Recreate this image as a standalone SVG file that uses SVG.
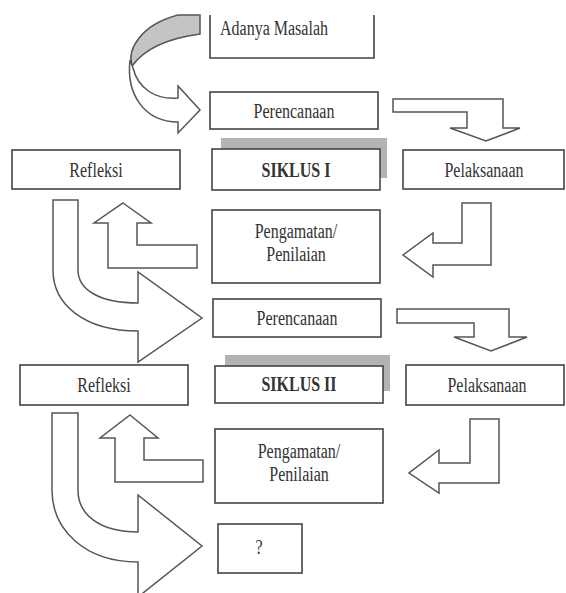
<svg xmlns="http://www.w3.org/2000/svg" width="566" height="593" viewBox="0 0 566 593">
<style>
.box{fill:#fff;stroke:#444;stroke-width:1.6}
.shadow{fill:#b3b3b3;stroke:none}
.arr{fill:#fff;stroke:#555;stroke-width:1.5;stroke-linejoin:miter}
.grey{fill:#c4c4c4;stroke:#555;stroke-width:1.5}
text{font-family:"Liberation Serif","Times New Roman",serif;font-size:20px;fill:#333;text-anchor:middle}
.b{font-weight:bold}
</style>
<rect width="566" height="593" fill="#fff"/>
<g id="connectors">
  <path class="grey" d="M178,15 L200,15 L200,34 C170,38 145,48 132,66 C127,50 140,25 178,15 Z"/>
  <path class="arr" d="M130,60 C126,95 145,122 178,122 L178,133 L200,110 L178,86 L178,98 C155,100 138,88 133,68 Z"/>
  <path class="arr" d="M393,99 L503,99 L503,128 L520,128 L486,141 L450,128 L467,128 L467,112 L393,112 Z"/>
  <path class="arr" d="M462,203 L491,203 L491,265 L433,265 L433,277 L403,255 L433,233 L433,243 L462,243 Z"/>
  <path class="arr" d="M123,203 L151,223 L137,223 L137,245 L197,245 L197,268 L108,268 L108,223 L94,223 Z"/>
  <path class="arr" d="M53,200 L78,200 L78,270 C78,290 100,303 138,303 L138,272 L202,318 L138,362 L138,331 C85,331 53,305 53,270 Z"/>
  <path class="arr" d="M397,309 L509,309 L509,337 L527,337 L491,351 L454,337 L474,337 L474,323 L397,323 Z"/>
  <path class="arr" d="M470,419 L499,419 L499,483 L439,483 L439,493 L409,473 L439,450 L439,463 L470,463 Z"/>
  <path class="arr" d="M130,415 L158,438 L144,438 L144,460 L203,460 L203,482 L115,482 L115,438 L100,438 Z"/>
  <path class="arr" d="M52,413 L78,413 L78,490 C78,515 100,532 138,532 L138,495 L202,546 L138,597 L138,562 C85,562 52,530 52,490 Z"/>
</g>
<g id="adanya">
  <path d="M210,15 L210,58 L374,58 L374,15" fill="#fff" stroke="#444" stroke-width="1.6"/>
  <text transform="translate(274,35) scale(0.8,1)">Adanya Masalah</text>
</g>
<g id="perencanaan1">
  <rect class="box" x="210" y="92" width="168" height="37"/>
  <text transform="translate(294,118) scale(0.8,1)">Perencanaan</text>
</g>
<g id="siklus1">
  <rect class="shadow" x="221" y="138" width="166" height="40"/>
  <rect class="box" x="212" y="149" width="168" height="41"/>
  <text class="b" transform="translate(296,177) scale(0.8,1)">SIKLUS I</text>
</g>
<g id="refleksi1">
  <rect class="box" x="12" y="150" width="168" height="39"/>
  <text transform="translate(96,177) scale(0.8,1)">Refleksi</text>
</g>
<g id="pelaksanaan1">
  <rect class="box" x="403" y="150" width="161" height="39"/>
  <text transform="translate(484,177) scale(0.8,1)">Pelaksanaan</text>
</g>
<g id="pengamatan1">
  <rect class="box" x="212" y="210" width="168" height="73"/>
  <text transform="translate(296,238) scale(0.8,1)">Pengamatan/</text>
  <text transform="translate(296,261) scale(0.8,1)">Penilaian</text>
</g>
<g id="perencanaan2">
  <rect class="box" x="213" y="299" width="168" height="38"/>
  <text transform="translate(297,325) scale(0.8,1)">Perencanaan</text>
</g>
<g id="siklus2">
  <rect class="shadow" x="225" y="355" width="165" height="36"/>
  <rect class="box" x="215" y="366" width="168" height="37"/>
  <text class="b" transform="translate(299,391) scale(0.8,1)">SIKLUS II</text>
</g>
<g id="refleksi2">
  <rect class="box" x="20" y="365" width="168" height="40"/>
  <text transform="translate(104,392) scale(0.8,1)">Refleksi</text>
</g>
<g id="pelaksanaan2">
  <rect class="box" x="406" y="365" width="158" height="40"/>
  <text transform="translate(487,392) scale(0.8,1)">Pelaksanaan</text>
</g>
<g id="pengamatan2">
  <rect class="box" x="215" y="429" width="168" height="74"/>
  <text transform="translate(299,458) scale(0.8,1)">Pengamatan/</text>
  <text transform="translate(299,481) scale(0.8,1)">Penilaian</text>
</g>
<g id="tanya">
  <rect class="box" x="218" y="524" width="84" height="49"/>
  <text transform="translate(259,554) scale(0.8,1)">?</text>
</g>
</svg>
